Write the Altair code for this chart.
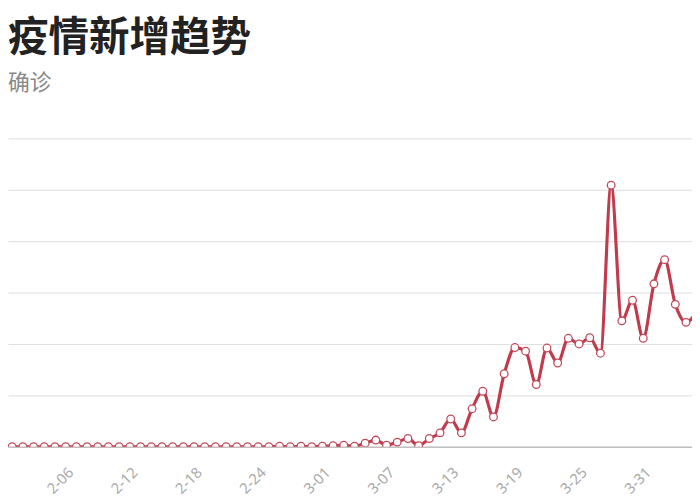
import altair as alt
import pandas as pd

# dates 1-31 .. 4-05 (2020)
dates = [d.strftime("%-m-%d") for d in pd.date_range("2020-01-31", "2020-04-05")]
new_cases = [
    0,                                   # 1-31
    0, 0, 0, 0, 0, 0, 0, 0, 0, 0,        # 2-01..2-10
    0, 0, 0, 0, 0, 0, 0, 0, 0, 0,        # 2-11..2-20
    0, 0, 0, 0, 0, 1, 0, 1, 0,           # 2-21..2-29
    1, 2, 3, 1, 7, 13, 3, 9, 16, 2,      # 3-01..3-10
    16, 27, 54, 27, 74, 108, 58, 142, 193, 186,  # 3-11..3-20
    121, 192, 163, 211, 200, 212, 182, 509, 245, 285,  # 3-21..3-30
    211, 317, 364, 277, 242, 262,        # 3-31..4-05
]
tick_days = [0, 6, 12, 18, 24, 30, 36, 42, 48, 54, 60, 66]
tick_labels = ["1-31", "2-06", "2-12", "2-18", "2-24", "3-01", "3-07",
               "3-13", "3-19", "3-25", "3-31", "4-06"]
y_ticks = [0, 100, 200, 300, 400, 500, 600]

df = pd.DataFrame({"day": list(range(len(dates))), "date": dates, "value": new_cases})

label_map = "{" + ",".join(f"'{d}':'{l}'" for d, l in zip(tick_days, tick_labels)) + "}"

x_enc = alt.X(
    "day:Q",
    scale=alt.Scale(domain=[0.61, 64.56], nice=False, zero=False),
    axis=alt.Axis(
        values=tick_days,
        labelExpr=f"{label_map}[''+datum.value]",
        labelAngle=315,
        labelColor="#aaaaaa",
        labelFont="Noto Sans",
        labelFontSize=15,
        labelPadding=18,
        ticks=False,
        grid=False,
        domain=True,
        domainColor="#c0c0c0",
        domainWidth=1.5,
        title=None,
    ),
)
y_enc = alt.Y(
    "value:Q",
    scale=alt.Scale(domain=[0, 600], nice=False),
    axis=alt.Axis(
        values=y_ticks,
        labels=False,
        ticks=False,
        domain=False,
        grid=True,
        gridColor="#dedede",
        gridWidth=1,
        title=None,
    ),
)

base = alt.Chart(df)
line = base.mark_line(
    interpolate="monotone", color="#c23b4c", strokeWidth=3.2, clip=True
).encode(x=x_enc, y=y_enc)
points = base.mark_point(
    shape="circle", filled=True, fill="white", stroke="#c24a5a",
    strokeWidth=1.3, size=60, opacity=1, clip=True
).encode(x="day:Q", y="value:Q")

chart = (
    alt.layer(line, points)
    .properties(
        width=692,
        height=312,
        autosize=alt.AutoSizeParams(type="none"),
        padding={"left": 0, "top": 129, "right": 0, "bottom": 51},
        title=alt.TitleParams(
            text="疫情新增趋势",
            subtitle="确诊",
            anchor="start",
            frame="group",
            font="Noto Sans CJK SC",
            fontSize=41,
            fontWeight="bold",
            color="#222222",
            subtitleFont="Noto Sans CJK SC",
            subtitleFontSize=22,
            subtitleColor="#888888",
            subtitlePadding=13,
            offset=44,
        ),
    )
    .configure_view(stroke=None)
)

chart.save("out.html", embed_options={"renderer": "svg", "actions": False})
